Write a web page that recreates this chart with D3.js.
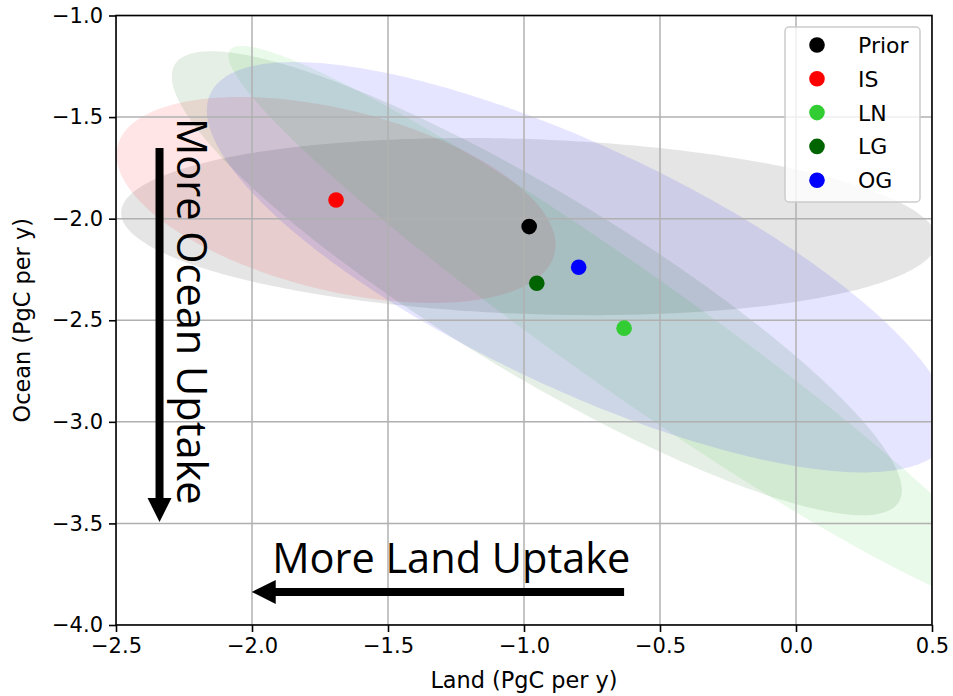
<!DOCTYPE html>
<html>
<head>
<meta charset="utf-8">
<script src="https://cdn.jsdelivr.net/npm/d3@7"></script>
<style>
  body { margin: 0; background: white; }
  text { font-family: "DejaVu Sans", sans-serif; }
</style>
</head>
<body>
<div id="canvas"></div>
<script>
// Dimensions and margins
var w = 953;
var h = 696;
var margin = {top: 15.5, right: 21, bottom: 71, left: 116};
var innerWidth = w - margin.left - margin.right;
var innerHeight = h - margin.top - margin.bottom;

// Data: one entry per estimate
var groups = ["Prior", "IS", "LN", "LG", "OG"];
var colors = ["black", "red", "limegreen", "darkgreen", "blue"];
var landMean = [-0.981, -1.691, -0.632, -0.953, -0.799];
var oceanMean = [-2.039, -1.908, -2.539, -2.318, -2.239];
// ellipse half-extents along each axis and correlation
var landSpread = [1.50, 0.807, 1.455, 1.342, 1.367];
var oceanSpread = [0.436, 0.507, 1.389, 1.142, 1.01];
var corr = [-0.155, -0.437, -0.966, -0.892, -0.765];

// tick values
var xTicks = [-2.5, -2.0, -1.5, -1.0, -0.5, 0.0, 0.5];
var yTicks = [-1.0, -1.5, -2.0, -2.5, -3.0, -3.5, -4.0];

// annotation arrows (data coords: from -> to)
var arrowFrom = [[-2.34, -1.652], [-0.632, -3.837]];
var arrowTo = [[-2.34, -3.493], [-2.001, -3.837]];
var noteText = ["More Ocean Uptake", "More Land Uptake"];
var notePos = [[-2.276, -1.504], [-1.926, -3.744]];

var svg = d3.select("#canvas")
    .append("svg")
    .attr("width", w)
    .attr("height", h)
    .style("background-color", "white");

let x_scale = d3.scaleLinear()
    .domain([-2.5, 0.5])
    .range([margin.left, margin.left + innerWidth]);

let y_scale = d3.scaleLinear()
    .domain([-1.0, -4.0])
    .range([margin.top, margin.top + innerHeight]);

svg.append("clipPath")
    .attr("id", "plotclip")
    .append("rect")
    .attr("x", margin.left)
    .attr("y", margin.top)
    .attr("width", innerWidth)
    .attr("height", innerHeight);

// Ellipses (drawn from mean, spread and correlation)
var ellipseLine = d3.line()
    .x(d => x_scale(d[0]))
    .y(d => y_scale(d[1]))
    .curve(d3.curveLinearClosed);

function ellipsePoints(i) {
    var s = Math.sqrt(1 - corr[i] * corr[i]);
    return d3.range(0, 2 * Math.PI, Math.PI / 180).map(t => [
        landMean[i] + landSpread[i] * Math.cos(t),
        oceanMean[i] + oceanSpread[i] * (corr[i] * Math.cos(t) + s * Math.sin(t))
    ]);
}

var plot = svg.append("g").attr("clip-path", "url(#plotclip)");

plot.selectAll("path.ell")
    .data(d3.range(groups.length))
    .join("path")
    .attr("class", "ell")
    .attr("d", i => ellipseLine(ellipsePoints(i)))
    .attr("fill", i => colors[i])
    .attr("fill-opacity", 0.1);

// Grid
plot.selectAll("line.gx")
    .data(xTicks)
    .join("line")
    .attr("class", "gx")
    .attr("x1", d => x_scale(d)).attr("x2", d => x_scale(d))
    .attr("y1", margin.top).attr("y2", margin.top + innerHeight)
    .attr("stroke", "#b0b0b0").attr("stroke-width", 1.5);

plot.selectAll("line.gy")
    .data(yTicks)
    .join("line")
    .attr("class", "gy")
    .attr("y1", d => y_scale(d)).attr("y2", d => y_scale(d))
    .attr("x1", margin.left).attr("x2", margin.left + innerWidth)
    .attr("stroke", "#b0b0b0").attr("stroke-width", 1.5);

// Points
plot.selectAll("circle.pt")
    .data(d3.range(groups.length))
    .join("circle")
    .attr("class", "pt")
    .attr("cx", i => x_scale(landMean[i]))
    .attr("cy", i => y_scale(oceanMean[i]))
    .attr("r", 7.8)
    .attr("fill", i => colors[i]);

// Arrows
function arrowPath(a, b) {
    var x0 = x_scale(a[0]), y0 = y_scale(a[1]);
    var x1 = x_scale(b[0]), y1 = y_scale(b[1]);
    var len = Math.hypot(x1 - x0, y1 - y0);
    var ux = (x1 - x0) / len, uy = (y1 - y0) / len;
    var px = -uy, py = ux;
    var sw = 4, hw = 12, hl = 24;
    var bx = x1 - ux * hl, by = y1 - uy * hl;
    var pts = [
        [x0 + px * sw, y0 + py * sw],
        [bx + px * sw, by + py * sw],
        [bx + px * hw, by + py * hw],
        [x1, y1],
        [bx - px * hw, by - py * hw],
        [bx - px * sw, by - py * sw],
        [x0 - px * sw, y0 - py * sw]
    ];
    return "M" + pts.map(p => p.join(",")).join("L") + "Z";
}

svg.selectAll("path.arrow")
    .data(d3.range(arrowFrom.length))
    .join("path")
    .attr("class", "arrow")
    .attr("d", i => arrowPath(arrowFrom[i], arrowTo[i]))
    .attr("fill", "black");

// Notes
svg.append("text")
    .attr("transform", `translate(${x_scale(notePos[0][0])},${y_scale(notePos[0][1])}) rotate(90)`)
    .style("font-family", "'Open Sans', sans-serif")
    .attr("font-size", "41.5px")
    .text(noteText[0]);

svg.append("text")
    .attr("x", x_scale(notePos[1][0]))
    .attr("y", y_scale(notePos[1][1]))
    .style("font-family", "'Open Sans', sans-serif")
    .attr("font-size", "41.5px")
    .text(noteText[1]);

// Axes
var fmt = d3.format(".1f");
var xAxis = svg.append("g")
    .attr("transform", `translate(0,${margin.top + innerHeight})`)
    .call(d3.axisBottom(x_scale).tickValues(xTicks).tickFormat(fmt).tickSize(7).tickPadding(6));
var yAxis = svg.append("g")
    .attr("transform", `translate(${margin.left},0)`)
    .call(d3.axisLeft(y_scale).tickValues(yTicks).tickFormat(fmt).tickSize(7).tickPadding(6));

[xAxis, yAxis].forEach(g => {
    g.attr("font-size", 21).attr("font-family", "DejaVu Sans");
    g.select(".domain").remove();
    g.selectAll(".tick line").attr("stroke", "black").attr("stroke-width", 1.6);
    g.selectAll(".tick text").attr("fill", "black");
});

// frame
svg.append("rect")
    .attr("x", margin.left)
    .attr("y", margin.top)
    .attr("width", innerWidth)
    .attr("height", innerHeight)
    .attr("fill", "none")
    .attr("stroke", "black")
    .attr("stroke-width", 1.6);

// Axis titles
svg.append("text")
    .attr("x", margin.left + innerWidth / 2)
    .attr("y", 688)
    .attr("text-anchor", "middle")
    .attr("font-size", "22.4px")
    .text("Land (PgC per y)");

svg.append("text")
    .attr("transform", `translate(30,${margin.top + innerHeight / 2}) rotate(-90)`)
    .attr("text-anchor", "middle")
    .attr("font-size", "22.4px")
    .text("Ocean (PgC per y)");

// Legend
var legend = svg.append("g").attr("transform", "translate(785,27)");
legend.append("rect")
    .attr("width", 135)
    .attr("height", 175)
    .attr("rx", 4)
    .attr("fill", "white")
    .attr("fill-opacity", 0.8)
    .attr("stroke", "#cccccc")
    .attr("stroke-width", 1.5);

var items = legend.selectAll("g.item")
    .data(d3.range(groups.length))
    .join("g")
    .attr("class", "item")
    .attr("transform", i => `translate(0,${18 + i * 33.8})`);

items.append("circle")
    .attr("cx", 32)
    .attr("r", 7.8)
    .attr("fill", i => colors[i]);

items.append("text")
    .attr("x", 73)
    .attr("dy", "0.36em")
    .attr("font-size", "22px")
    .text(i => groups[i]);
</script>
</body>
</html>
